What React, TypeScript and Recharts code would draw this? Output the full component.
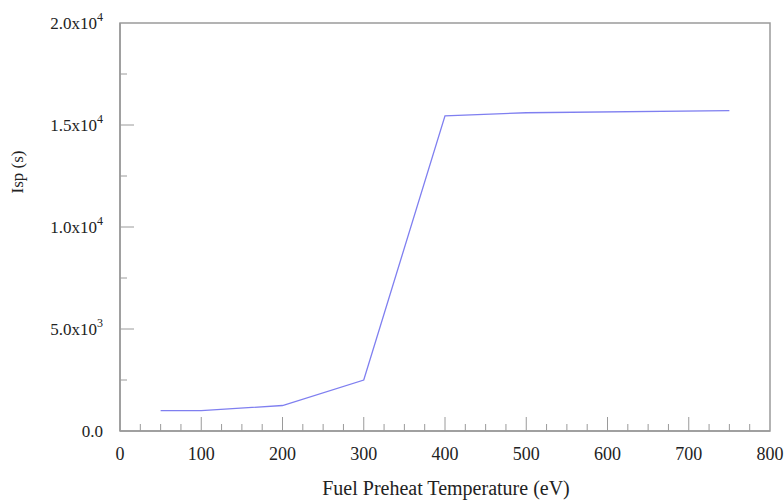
import React from 'react'
import { LineChart, Line, XAxis, YAxis, ReferenceArea } from 'recharts'

const temps = [50, 100, 200, 300, 400, 500, 750]
const isp = [1000, 1000, 1250, 2500, 15450, 15600, 15700]

const xTicks = Array.from({ length: 33 }, (_, i) => i * 25)
const yTicks = Array.from({ length: 9 }, (_, i) => i * 2500)
const yLabels: Record<number, [string, string]> = {
  0: ['0.0', ''],
  5000: ['5.0x10', '3'],
  10000: ['1.0x10', '4'],
  15000: ['1.5x10', '4'],
  20000: ['2.0x10', '4']
}

const data = temps.map((t, i) => ({ temp: t, isp: isp[i] }))

const FONT = '"Liberation Serif", "DejaVu Serif", serif'
const AXIS = '#9a9a9a'
const INK = '#222'

function XTick({ x, y, payload }: any) {
  const v = payload.value
  const major = v % 100 === 0
  return (
    <g>
      {v > 0 && v < 800 && (
        <line x1={x} x2={x} y1={y} y2={y - (major ? 14 : 7)} stroke={AXIS} strokeWidth={1} />
      )}
      {major && (
        <text x={x} y={y + 29} textAnchor="middle" fontFamily={FONT} fontSize={18} fill={INK}>
          {v}
        </text>
      )}
    </g>
  )
}

function YTick({ x, y, payload }: any) {
  const v = payload.value
  const lab = yLabels[v]
  return (
    <g>
      {v > 0 && v < 20000 && (
        <line x1={x} x2={x + (lab ? 14 : 7)} y1={y} y2={y} stroke={AXIS} strokeWidth={1} />
      )}
      {lab && (
        <text x={x - 17} y={y + 6} textAnchor="end" fontFamily={FONT} fontSize={17} fill={INK}>
          <tspan>{lab[0]}</tspan>
          {lab[1] && (
            <tspan dy={-8} fontSize={12}>
              {lab[1]}
            </tspan>
          )}
        </text>
      )}
    </g>
  )
}

export default function App() {
  return (
    <div style={{ position: 'absolute', left: 0, top: 0, background: '#fff' }}>
      <LineChart
        width={784}
        height={502}
        data={data}
        margin={{ top: 23, right: 14, bottom: 0, left: 0 }}
      >
        <XAxis
          dataKey="temp"
          type="number"
          domain={[0, 800]}
          ticks={xTicks}
          interval={0}
          height={71}
          tickSize={0}
          tickMargin={0}
          tickLine={false}
          axisLine={{ stroke: AXIS, strokeWidth: 1.5 }}
          tick={<XTick />}
          label={{
            content: () => (
              <text x={446} y={495} textAnchor="middle" fontFamily={FONT} fontSize={20} fill={INK}>
                Fuel Preheat Temperature (eV)
              </text>
            )
          }}
        />
        <YAxis
          type="number"
          domain={[0, 20000]}
          ticks={yTicks}
          interval={0}
          width={120}
          tickSize={0}
          tickMargin={0}
          tickLine={false}
          axisLine={{ stroke: AXIS, strokeWidth: 1.5 }}
          tick={<YTick />}
          label={{
            content: () => (
              <text
                x={23}
                y={172}
                textAnchor="middle"
                fontFamily={FONT}
                fontSize={17}
                fill={INK}
                transform="rotate(-90 23 172)"
              >
                Isp (s)
              </text>
            )
          }}
        />
        <ReferenceArea
          x1={0}
          x2={800}
          y1={0}
          y2={20000}
          fill="none"
          stroke={AXIS}
          strokeWidth={1.5}
          ifOverflow="visible"
        />
        <Line
          type="linear"
          dataKey="isp"
          stroke="#7f7ff0"
          strokeWidth={1.3}
          dot={false}
          isAnimationActive={false}
        />
      </LineChart>
    </div>
  )
}
